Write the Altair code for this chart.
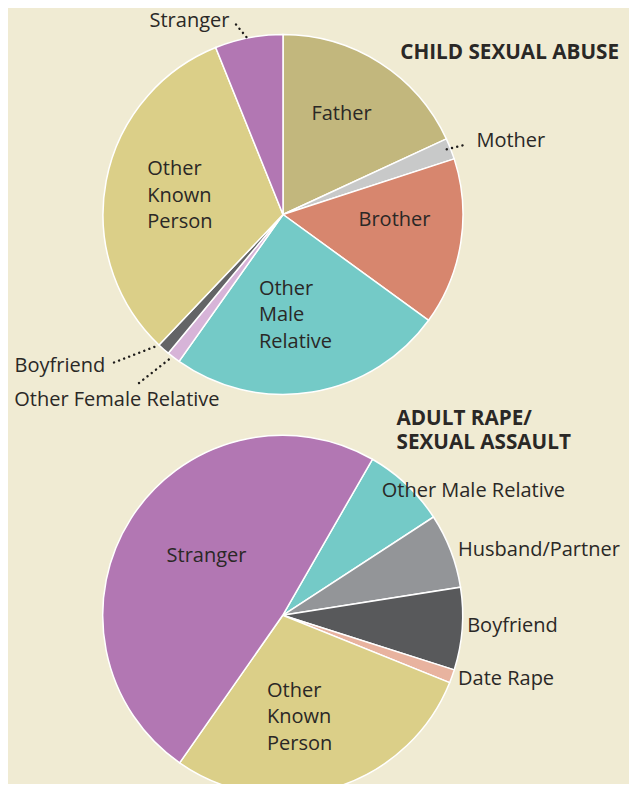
import math
import altair as alt
import pandas as pd

# ---------------- data ----------------
child_labels = ["Father", "Mother", "Brother", "Other Male Relative",
                "Other Female Relative", "Boyfriend", "Other Known Person", "Stranger"]
child_values = [18.1, 1.9, 15.0, 24.8, 1.2, 1.1, 31.8, 6.1]
child_colors = ["#C2B77D", "#C8C9C9", "#D7866E", "#74CAC7",
                "#D7B4D8", "#636466", "#DBCF88", "#B277B3"]

adult_labels = ["Other Male Relative", "Husband/Partner", "Boyfriend",
                "Date Rape", "Other Known Person", "Stranger"]
adult_values = [7.5, 6.7, 7.4, 1.2, 28.6, 48.6]
adult_colors = ["#74CAC7", "#939598", "#58595B", "#E8B39F", "#DBCF88", "#B277B3"]

# ---------------- layout ----------------
OFF = 8            # page margin
BG = "#F0EBD3"
TXT = "#2A2826"
FONT = "Open Sans"
FS = 20
TITLE_FS = 20.7
R = 180


def pie(labels, values, colors, cx, cy, start_deg):
    df = pd.DataFrame({"label": labels, "value": values,
                       "order": list(range(len(labels)))})
    a = math.radians(start_deg)
    return alt.Chart(df).mark_arc(outerRadius=R, stroke="white", strokeWidth=1.5).encode(
        theta=alt.Theta("value:Q", stack=True,
                        scale=alt.Scale(range=[a, a + 2 * math.pi])),
        color=alt.Color("label:N", scale=alt.Scale(domain=labels, range=colors),
                        legend=None),
        order=alt.Order("order:Q"),
        x=alt.value(cx - OFF),
        y=alt.value(cy - OFF),
    )


dummy = alt.Data(values=[{}])


def txt(s, x, y, bold=False, align="left", size=FS):
    return alt.Chart(dummy).mark_text(
        font=FONT, fontSize=size, fontWeight="bold" if bold else "normal",
        color=TXT, align=align, baseline="alphabetic",
    ).encode(x=alt.value(x - OFF), y=alt.value(y - OFF), text=alt.value(s))


def leader(x1, y1, x2, y2):
    return alt.Chart(dummy).mark_rule(
        color="#1E1C1B", strokeWidth=2.4, strokeCap="round", strokeDash=[0.1, 5.3]
    ).encode(x=alt.value(x1 - OFF), y=alt.value(y1 - OFF),
             x2=alt.value(x2 - OFF), y2=alt.value(y2 - OFF))


top = pie(child_labels, child_values, child_colors, 283, 214.5, 0)
bottom = pie(adult_labels, adult_values, adult_colors, 282.7, 615.3, 29.9)

texts = [
    # child sexual abuse
    txt("CHILD SEXUAL ABUSE", 619, 59.3, bold=True, align="right", size=TITLE_FS),
    txt("Stranger", 149.5, 27.3),
    txt("Father", 311.4, 120),
    txt("Mother", 476.4, 146.7),
    txt("Brother", 358.5, 226),
    txt("Other", 147.2, 175), txt("Known", 147.2, 201.7), txt("Person", 147.2, 228.3),
    txt("Other", 258.9, 295), txt("Male", 258.9, 321), txt("Relative", 258.9, 347.7),
    txt("Boyfriend", 14.6, 371.7),
    txt("Other Female Relative", 14.2, 406),
    # adult rape / sexual assault
    txt("ADULT RAPE/", 396.5, 425, bold=True, size=TITLE_FS),
    txt("SEXUAL ASSAULT", 396.5, 449, bold=True, size=TITLE_FS),
    txt("Other Male Relative", 381.7, 496.7),
    txt("Husband/Partner", 458, 555.7),
    txt("Boyfriend", 467.2, 631.5),
    txt("Date Rape", 458, 685),
    txt("Stranger", 166.6, 562),
    txt("Other", 267, 696.7), txt("Known", 267, 723.3), txt("Person", 267, 750),
]

leaders = [
    leader(236, 24.5, 249.3, 40.5),
    leader(446.7, 149.3, 467, 144.3),
    leader(114, 362.5, 159.3, 345),
    leader(139, 383, 172, 357),
]

chart = alt.layer(top, bottom, *leaders, *texts).resolve_scale(
    theta="independent", color="independent"
).properties(
    width=621, height=776, background=BG, padding=0,
    autosize=alt.AutoSizeParams(type="none"),
).configure_view(stroke=None)

chart.save("out.html", embed_options={"renderer": "svg", "actions": False})
